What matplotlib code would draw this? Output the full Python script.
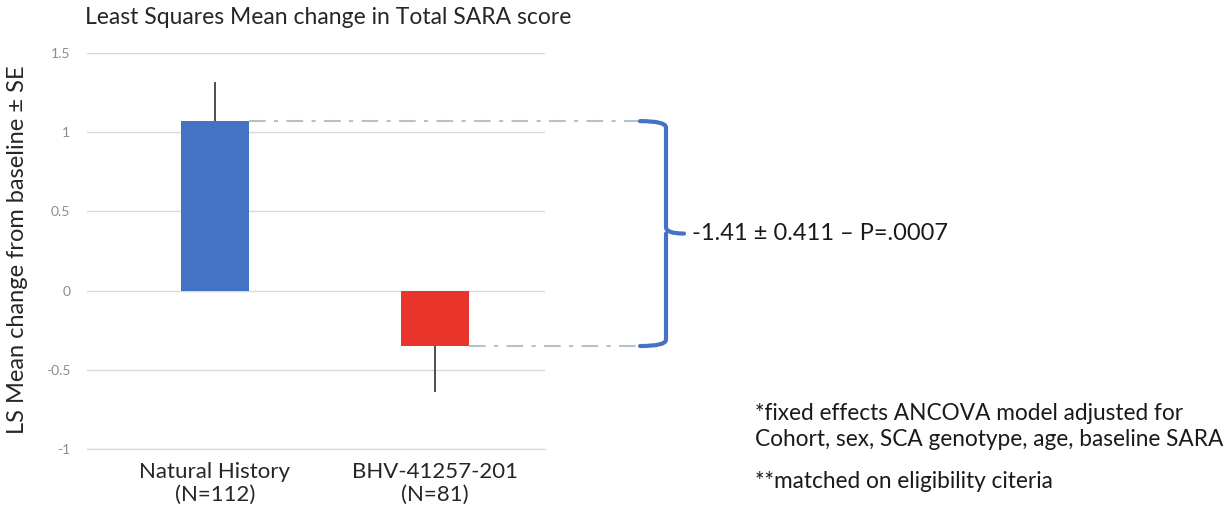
import numpy as np
import matplotlib
matplotlib.use('agg')
import matplotlib.pyplot as plt
import matplotlib.transforms as mtransforms
from matplotlib.path import Path
from matplotlib.patches import PathPatch

plt.rcParams['font.family'] = ['Lato', 'DejaVu Sans']

groups = ['Natural History\n(N=112)', 'BHV-41257-201\n(N=81)']
ls_means = [1.07, -0.35]
se_up = [0.25, 0.0]
se_down = [0.0, 0.29]
bar_colors = ['#4472C4', '#E8342A']
yticks = [-1, -0.5, 0, 0.5, 1, 1.5]
yticklabels = ['-1', '-0.5', '0', '0.5', '1', '1.5']
diff_text = '-1.41 \u00b1 0.411 \u2013 P=.0007'
notes = ['*fixed effects ANCOVA model adjusted for',
         'Cohort, sex, SCA genotype, age, baseline SARA',
         '**matched on eligibility citeria']

fig = plt.figure(figsize=(12.3, 5.21), dpi=100)
ax = fig.add_axes([87 / 1230, 72 / 521, 458 / 1230, 396 / 521])

x = np.arange(len(groups))
ax.bar(x, ls_means, width=0.31, color=bar_colors, zorder=2)
ax.errorbar(x, ls_means, yerr=[se_down, se_up], fmt='none', ecolor='#404040',
            elinewidth=1.3, capsize=0, zorder=3)

ax.set_xlim(-0.58, 1.5)
ax.set_ylim(-1, 1.5)
ax.set_yticks(yticks)
ax.set_yticklabels(yticklabels)
ax.set_xticks(x)
ax.set_xticklabels(groups, fontsize=16, color='#262626', linespacing=1.2)
ax.tick_params(axis='y', length=0, labelsize=10, labelcolor='#8c8c8c', pad=12)
ax.tick_params(axis='x', length=0, pad=9)
ax.yaxis.grid(True, color='#d9d9d9', lw=1)
ax.set_axisbelow(True)
for s in ['left', 'right', 'top']:
    ax.spines[s].set_visible(False)
ax.spines['bottom'].set_color('#d9d9d9')

fig.text(18 / 1230, 1 - 250 / 521, 'LS Mean change from baseline \u00b1 SE', fontsize=17,
         color='#262626', rotation=90, va='center', ha='center')
fig.text(85 / 1230, 1 - 17 / 521, 'Least Squares Mean change in Total SARA score',
         fontsize=16.5, color='#262626', va='center', ha='left')

# dash-dot guides from bar ends to the bracket
tr = mtransforms.blended_transform_factory(fig.transFigure, ax.transData)
x_bracket = 640 / 1230
for i, v in enumerate(ls_means):
    ax.plot([x[i] + 0.155, (x_bracket * 1230 - 87) / 220 - 0.58], [v, v], color='#b8c0cc',
            lw=1.5, ls=(0, (8, 4, 2, 4)), clip_on=False, zorder=1)

# curly bracket
top, bot = ls_means[0], ls_means[1]
mid = (top + bot) / 2
x0, x1, xt = 640 / 1230, 666 / 1230, 684 / 1230
r = 0.04
verts = [(x0, top), (x1, top), (x1, top - r), (x1, mid + r),
         (x1, mid), (xt, mid), (x1, mid), (x1, mid - r),
         (x1, bot + r), (x1, bot), (x0, bot)]
codes = [Path.MOVETO, Path.CURVE3, Path.CURVE3, Path.LINETO,
         Path.CURVE3, Path.CURVE3, Path.MOVETO, Path.LINETO,
         Path.LINETO, Path.CURVE3, Path.CURVE3]
bracket = PathPatch(Path(verts, codes), transform=tr, fill=False, edgecolor='#4472C4',
                    lw=3, capstyle='round', joinstyle='round', clip_on=False)
fig.add_artist(bracket)
fig.text(692 / 1230, mid, diff_text, transform=tr, fontsize=17, color='#1a1a1a',
         va='center', ha='left')

for txt, ypx in zip(notes, [413, 440, 481]):
    fig.text(755 / 1230, 1 - ypx / 521, txt, fontsize=16.3, color='#1a1a1a',
             va='center', ha='left')

fig.savefig('out.png', dpi=100, facecolor='white')
